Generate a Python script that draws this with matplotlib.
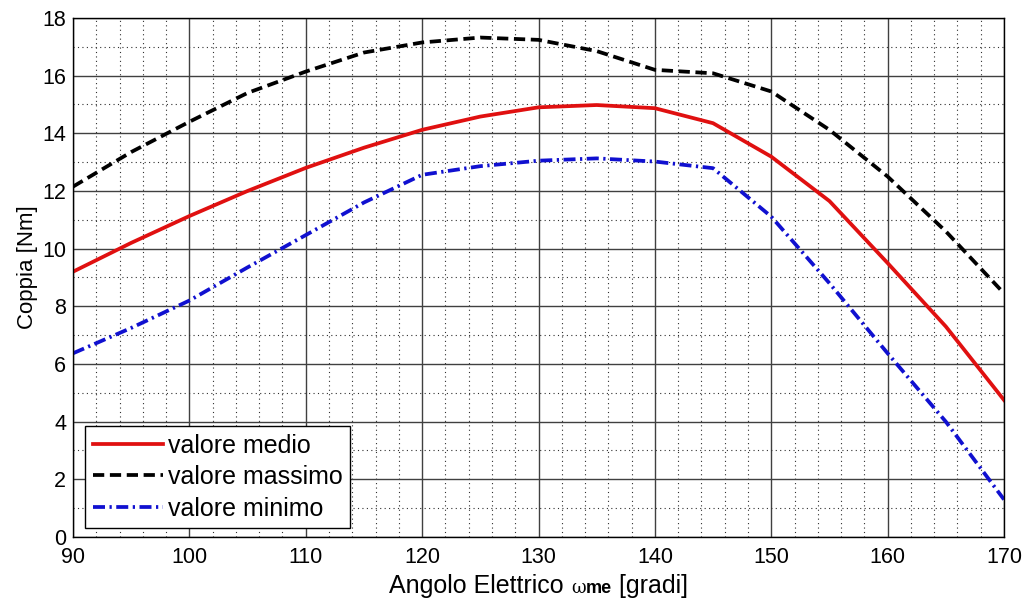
import matplotlib
matplotlib.use("Agg")
import matplotlib.pyplot as plt
from matplotlib.ticker import MultipleLocator
from matplotlib.offsetbox import TextArea, HPacker, AnchoredOffsetbox

plt.rcParams['font.family'] = ['Liberation Sans', 'DejaVu Sans']

# Electrical angle [degrees]
angolo = [90, 95, 100, 105, 110, 115, 120, 125, 130, 135, 140, 145, 150, 155, 160, 165, 170]

# Torque [Nm]
coppia_media = [9.2, 10.2, 11.13, 12.0, 12.8, 13.5, 14.12, 14.58, 14.9, 14.98, 14.87, 14.35,
                13.19, 11.65, 9.5, 7.3, 4.75]
coppia_max = [12.15, 13.35, 14.4, 15.4, 16.14, 16.8, 17.15, 17.32, 17.24, 16.85, 16.2, 16.08,
              15.45, 14.12, 12.5, 10.6, 8.45]
coppia_min = [6.37, 7.25, 8.2, 9.35, 10.47, 11.6, 12.56, 12.86, 13.05, 13.13, 13.02, 12.79,
              11.11, 8.8, 6.37, 4.0, 1.3]

fig = plt.figure(figsize=(10.27, 5.98), dpi=100)
ax = fig.add_axes([0.0711, 0.102, 0.9065, 0.868])

ax.plot(angolo, coppia_media, color='#e01010', lw=2.7, label='valore medio')
ax.plot(angolo, coppia_max, color='black', lw=2.7, dashes=(3.0, 1.5), label='valore massimo')
ax.plot(angolo, coppia_min, color='#1010d0', lw=2.7, dashes=(3.2, 1.2, 0.6, 1.2),
        label='valore minimo')

ax.set_xlim(90, 170)
ax.set_ylim(0, 18)
ax.xaxis.set_major_locator(MultipleLocator(10))
ax.xaxis.set_minor_locator(MultipleLocator(2))
ax.yaxis.set_major_locator(MultipleLocator(2))
ax.yaxis.set_minor_locator(MultipleLocator(1))

ax.grid(which='major', color='#404040', lw=1.0, ls='-')
ax.grid(which='minor', color='#303030', lw=0.8, ls=(0, (1, 3)))
ax.set_axisbelow(True)

ax.tick_params(which='both', direction='in', labelsize=15.5, length=0)
ax.tick_params(axis='x', pad=7)
ax.tick_params(axis='y', pad=5)
for s in ax.spines.values():
    s.set_color('black')
    s.set_linewidth(1.0)

ax.set_ylabel('Coppia [Nm]', fontsize=16)
ax.yaxis.set_label_coords(-0.038, 0.52)

# x-axis label with a small symbol part
parts = [
    TextArea('Angolo Elettrico ', textprops=dict(fontsize=18)),
    TextArea('\u03c9', textprops=dict(fontsize=13, family='DejaVu Serif')),
    TextArea('me', textprops=dict(fontsize=13, fontweight='bold')),
    TextArea(' [gradi]', textprops=dict(fontsize=18)),
]
box = HPacker(children=parts, align='baseline', pad=0, sep=0)
anchored = AnchoredOffsetbox(loc='upper center', child=box, pad=0, frameon=False,
                             bbox_to_anchor=(0.5, -0.072), bbox_transform=ax.transAxes,
                             borderpad=0)
ax.add_artist(anchored)

leg = ax.legend(loc='lower left', bbox_to_anchor=(0.0129, 0.0173), borderaxespad=0,
                fontsize=18, fancybox=False, framealpha=1, edgecolor='black',
                handlelength=2.8, handletextpad=0.2, labelspacing=0.3,
                borderpad=0.3)
leg.get_frame().set_linewidth(1.0)

fig.savefig('out.png', dpi=100)
